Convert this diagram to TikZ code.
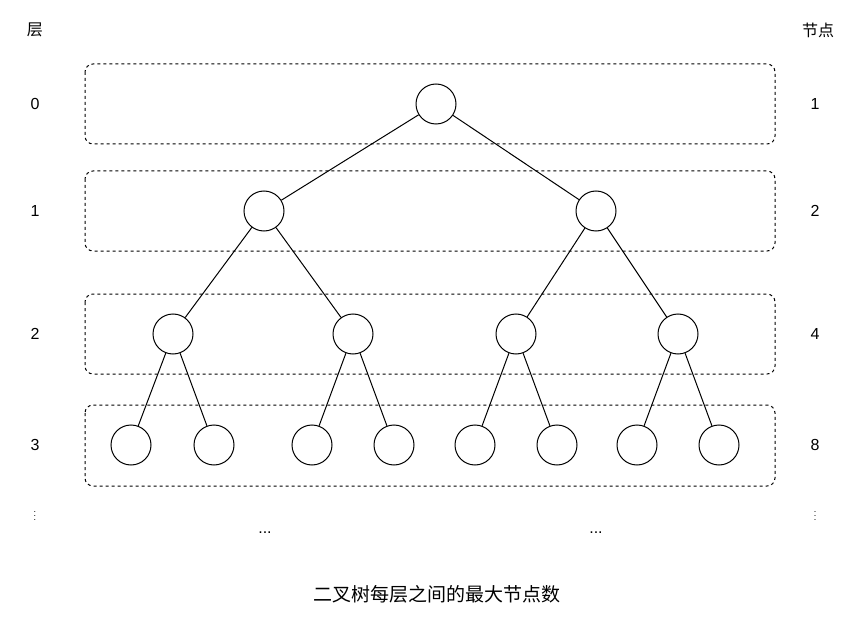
\documentclass[tikz,border=0pt]{standalone}
\usepackage{fontspec}
\setmainfont{Liberation Sans}
\newfontfamily\cjk{Noto Sans CJK SC}
\usetikzlibrary{positioning}
\tikzstyle{vertex} = [draw, circle, line width = 1pt, minimum size = 40pt, inner sep = 0pt]
\tikzstyle{level} = [draw, line width = 1pt, dash pattern = on 3pt off 3pt, rounded corners = 8pt]
\tikzstyle{lbl} = [font = \fontsize{16}{18}\selectfont]
\begin{document}
\begin{tikzpicture}[x = 1pt, y = -1pt]
	\useasboundingbox (0, 0) rectangle (863, 623);
	
	% Level boxes
	\draw[level] (85, 64) rectangle (775, 144);
	\draw[level] (85, 171) rectangle (775, 251);
	\draw[level] (85, 294) rectangle (775, 374);
	\draw[level] (85, 405) rectangle (775, 486);
	
	% Tree
	\node[vertex] (r) at (436, 104) {};
	\node[vertex] (a1) at (264, 211) {};
	\node[vertex] (a2) at (596, 211) {};
	\node[vertex] (b1) at (173, 334) {};
	\node[vertex] (b2) at (353, 334) {};
	\node[vertex] (b3) at (516, 334) {};
	\node[vertex] (b4) at (678, 334) {};
	\foreach \i/\x in {1/131, 2/214, 3/312, 4/394, 5/475, 6/557, 7/637, 8/719}
		\node[vertex] (c\i) at (\x, 445) {};
	
	\draw[line width = 1pt] (r) -- (a1);
	\draw[line width = 1pt] (r) -- (a2);
	\draw[line width = 1pt] (a1) -- (b1);
	\draw[line width = 1pt] (a1) -- (b2);
	\draw[line width = 1pt] (a2) -- (b3);
	\draw[line width = 1pt] (a2) -- (b4);
	\foreach \p/\l/\r in {1/1/2, 2/3/4, 3/5/6, 4/7/8} {
		\draw[line width = 1pt] (b\p) -- (c\l);
		\draw[line width = 1pt] (b\p) -- (c\r);
	}
	
	% Labels
	\node[lbl] (hl) at (35, 30) {\cjk 层};
	\node[lbl] (hr) at (818, 30) {\cjk 节点};
	\foreach \n/\y/\v in {0/104/1, 1/211/2, 2/334/4, 3/445/8} {
		\node[lbl] (l\n) at (35, \y) {\n};
		\node[lbl] (n\n) at (815, \y) {\v};
	}
	\node[inner sep = 0pt, font = \small] (ld) at (35, 513) {$\vdots$};
	\node[inner sep = 0pt, font = \small] (nd) at (815, 513) {$\vdots$};
	\node[lbl] (dl) at (265, 533) {...};
	\node[lbl] (dr) at (596, 533) {...};
	\node[font = \fontsize{19}{22}\selectfont] (cap) at (437, 594) {\cjk 二叉树每层之间的最大节点数};
	
\end{tikzpicture}
\end{document}
